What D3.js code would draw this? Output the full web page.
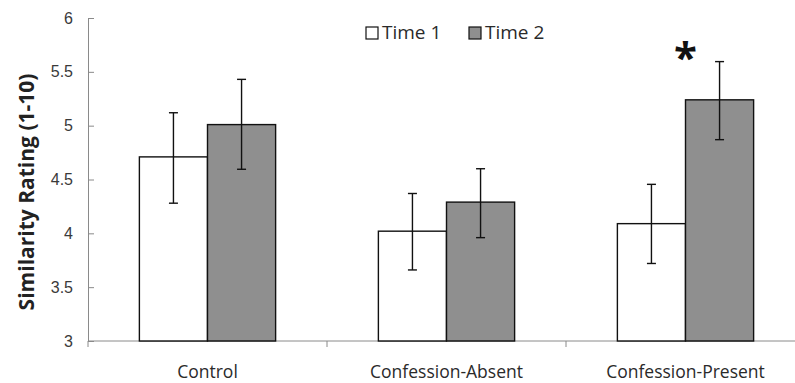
<!DOCTYPE html>
<html>
<head>
<meta charset="utf-8">
<script src="https://cdn.jsdelivr.net/npm/d3@7"></script>
<style>
  body { margin: 0; background: #fff; }
  svg { display: block; font-family: "Open Sans", sans-serif; }
</style>
</head>
<body>
<script>
// chart values
const categories = ['Control', 'Confession-Absent', 'Confession-Present']
const seriesNames = ['Time 1', 'Time 2']
const time1 = [4.71, 4.02, 4.09]
const time2 = [5.01, 4.29, 5.24]
const time1Low = [4.28, 3.66, 3.72]
const time1High = [5.12, 4.37, 4.455]
const time2Low = [4.595, 3.96, 4.87]
const time2High = [5.43, 4.60, 5.595]
const yTicks = [3, 3.5, 4, 4.5, 5, 5.5, 6]
const significant = ['Confession-Present']

const width = 795, height = 383
const margin = {top: 18, right: -10, bottom: 42, left: 88}

const rows = categories.map((c, i) => ({
    category: c,
    values: [
        {series: seriesNames[0], value: time1[i], low: time1Low[i], high: time1High[i]},
        {series: seriesNames[1], value: time2[i], low: time2Low[i], high: time2High[i]},
    ]
}))

const svg = d3.select('body').append('svg')
    .attr('width', width)
    .attr('height', height)

const x = d3.scaleBand()
    .domain(categories)
    .range([margin.left, width - margin.right])
    .paddingInner(0.43)
    .paddingOuter(0.215)

const x1 = d3.scaleBand()
    .domain(seriesNames)
    .range([0, x.bandwidth()])

const y = d3.scaleLinear()
    .domain([3, 6])
    .range([height - margin.bottom, margin.top])

const color = d3.scaleOrdinal(seriesNames, ['#ffffff', '#8f8f8f'])

// y axis (ticks pointing into the plot)
const yAxis = svg.append('g')
    .attr('transform', `translate(${margin.left},0)`)
    .call(d3.axisLeft(y).tickValues(yTicks).tickFormat(d3.format('')).tickSizeInner(-6).tickSizeOuter(0).tickPadding(15))
yAxis.select('.domain').attr('stroke', '#8a8a8a')
yAxis.selectAll('.tick line').attr('stroke', '#8a8a8a')
yAxis.selectAll('.tick text')
    .attr('fill', '#3a3a3a')
    .style('font-size', '16px')

// x axis line with category boundary ticks
const step = x.step()
const xAxis = svg.append('g')
    .attr('transform', `translate(0,${y(3)})`)
xAxis.append('line')
    .attr('x1', margin.left).attr('x2', width)
    .attr('stroke', '#8a8a8a')
xAxis.selectAll('line.sep')
    .data(d3.range(categories.length + 1))
    .join('line')
    .attr('class', 'sep')
    .attr('x1', d => margin.left + d * step)
    .attr('x2', d => margin.left + d * step)
    .attr('y1', 0).attr('y2', 6)
    .attr('stroke', '#8a8a8a')
xAxis.selectAll('text')
    .data(categories)
    .join('text')
    .attr('x', d => x(d) + x.bandwidth() / 2)
    .attr('y', 36.5)
    .attr('text-anchor', 'middle')
    .attr('fill', '#2a2a2a')
    .style('font-size', '17.5px')
    .text(d => d)

// bars
const group = svg.append('g')
    .selectAll('g')
    .data(rows)
    .join('g')
    .attr('transform', d => `translate(${x(d.category)},0)`)

group.selectAll('rect')
    .data(d => d.values)
    .join('rect')
    .attr('x', d => x1(d.series))
    .attr('y', d => y(d.value))
    .attr('width', x1.bandwidth())
    .attr('height', d => y(3) - y(d.value))
    .attr('fill', d => color(d.series))
    .attr('stroke', '#111')
    .attr('stroke-width', 1.4)

// error bars
const err = group.selectAll('g.err')
    .data(d => d.values)
    .join('g')
    .attr('class', 'err')
    .attr('stroke', '#111')
    .attr('stroke-width', 1.4)
err.append('line')
    .attr('x1', d => x1(d.series) + x1.bandwidth() / 2)
    .attr('x2', d => x1(d.series) + x1.bandwidth() / 2)
    .attr('y1', d => y(d.low))
    .attr('y2', d => y(d.high))
err.selectAll('line.cap')
    .data(d => [d.low, d.high].map(v => ({series: d.series, v})))
    .join('line')
    .attr('class', 'cap')
    .attr('x1', d => x1(d.series) + x1.bandwidth() / 2 - 4.5)
    .attr('x2', d => x1(d.series) + x1.bandwidth() / 2 + 4.5)
    .attr('y1', d => y(d.v))
    .attr('y2', d => y(d.v))

// significance star
svg.selectAll('text.star')
    .data(significant)
    .join('text')
    .attr('class', 'star')
    .attr('x', d => x(d) + x.bandwidth() / 2)
    .attr('y', 72)
    .attr('text-anchor', 'middle')
    .attr('font-weight', 'bold')
    .style('font-size', '42px')
    .attr('fill', '#111')
    .text('*')

// y label
svg.append('text')
    .attr('transform', `translate(34,${192}) rotate(-90)`)
    .attr('text-anchor', 'middle')
    .attr('font-weight', 'bold')
    .attr('fill', '#222')
    .style('font-size', '21px')
    .text('Similarity Rating (1-10)')

// legend
const legend = svg.append('g')
    .selectAll('g')
    .data(seriesNames)
    .join('g')
    .attr('transform', (d, i) => `translate(${366 + i * 103},27)`)
legend.append('rect')
    .attr('width', 12).attr('height', 12)
    .attr('fill', d => color(d))
    .attr('stroke', '#111')
    .attr('stroke-width', 1.2)
legend.append('text')
    .attr('x', 16)
    .attr('y', 11.5)
    .attr('fill', '#2a2a2a')
    .style('font-size', '19px')
    .text(d => d)
</script>
</body>
</html>
